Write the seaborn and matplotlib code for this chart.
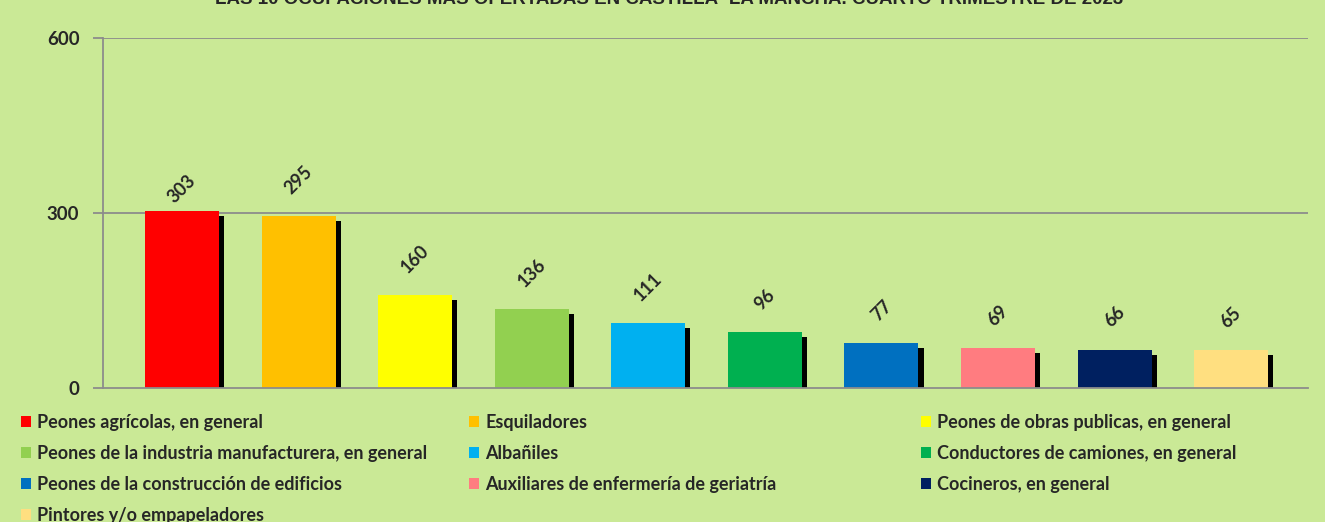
import matplotlib
matplotlib.use("Agg")
import matplotlib.pyplot as plt
import matplotlib.patheffects as pe
from matplotlib.patches import Patch
import seaborn as sns

sns.set_theme(style="white")
plt.rcParams['font.family'] = ['Lato', 'DejaVu Sans']

ocupaciones = [
    "Peones agrícolas, en general",
    "Esquiladores",
    "Peones de obras publicas, en general",
    "Peones de la industria manufacturera, en general",
    "Albañiles",
    "Conductores de camiones, en general",
    "Peones de la construcción de edificios",
    "Auxiliares de enfermería de geriatría",
    "Cocineros, en general",
    "Pintores y/o empapeladores",
]
ofertas = [303, 295, 160, 136, 111, 96, 77, 69, 66, 65]
colores = ["#FF0000", "#FFC000", "#FFFF00", "#92D050", "#00B0F0",
           "#00B050", "#0070C0", "#FF7C80", "#002060", "#FFDF80"]
yticks = [0, 300, 600]
titulo = "LAS 10 OCUPACIONES MÁS OFERTADAS EN CASTILLA -LA MANCHA. CUARTO TRIMESTRE DE 2023"

bg = "#CAE996"
grid_c = "#8C8C8C"

fig = plt.figure(figsize=(13.25, 5.22), dpi=100, facecolor=bg)
ax = fig.add_axes([103/1325, 1-388/522, 1205/1325, 350/522])
ax.set_facecolor(bg)

sns.barplot(x=ocupaciones, y=ofertas, hue=ocupaciones, palette=colores,
            order=ocupaciones, hue_order=ocupaciones, legend=False,
            width=0.635, saturation=1, linewidth=0, edgecolor="none", ax=ax, zorder=3)
for p in ax.patches:
    p.set_path_effects([pe.SimplePatchShadow(offset=(3.7, -3.7), shadow_rgbFace="black", alpha=1),
                        pe.Normal()])

ax.set_xlim(-0.678, 9.66)
ax.set_ylim(0, 600)
ax.set_yticks(yticks)
ax.set_yticklabels([str(t) for t in yticks], fontsize=13.5, fontweight="bold")
ax.set_xticks([])
ax.set_xlabel(""); ax.set_ylabel("")
for t in yticks[1:]:
    ax.axhline(t, color=grid_c, lw=1.3, zorder=1)
for s in ["top", "right"]:
    ax.spines[s].set_visible(False)
for s in ["left", "bottom"]:
    ax.spines[s].set_color(grid_c)
    ax.spines[s].set_linewidth(1.3)
ax.spines["bottom"].set_zorder(4)
ax.tick_params(axis="y", direction="out", length=7, width=1.3, color=grid_c, pad=10, left=True)

# etiquetas de valor, giradas 45 grados
pad_px = {0: 5}
for i, v in enumerate(ofertas):
    ax.annotate(str(v), (i, v), xytext=(0, pad_px.get(i, 19)), textcoords="offset pixels",
                ha="center", va="bottom", rotation=45, fontsize=13, fontweight="bold")

fig.text(0.505, 1.0, titulo, ha="center", va="center", fontsize=13.5,
         fontweight="bold", family=["Liberation Sans", "DejaVu Sans"])

# leyenda en 3 columnas, rellenada por filas
handles = [Patch(facecolor=c, edgecolor="none") for c in colores]
col_x = [21, 469, 921]
for k, x0 in enumerate(col_x):
    idx = list(range(k, len(ocupaciones), 3))
    fig.legend([handles[i] for i in idx], [ocupaciones[i] for i in idx],
               loc="upper left", bbox_to_anchor=(x0/1325, 1-414/522),
               frameon=False, borderpad=0, borderaxespad=0,
               handlelength=0.58, handleheight=0.58, handletextpad=0.32,
               labelspacing=0.78, prop={"family": "Lato", "weight": "bold", "size": 13})

fig.savefig("out.png", dpi=100, facecolor=bg)
